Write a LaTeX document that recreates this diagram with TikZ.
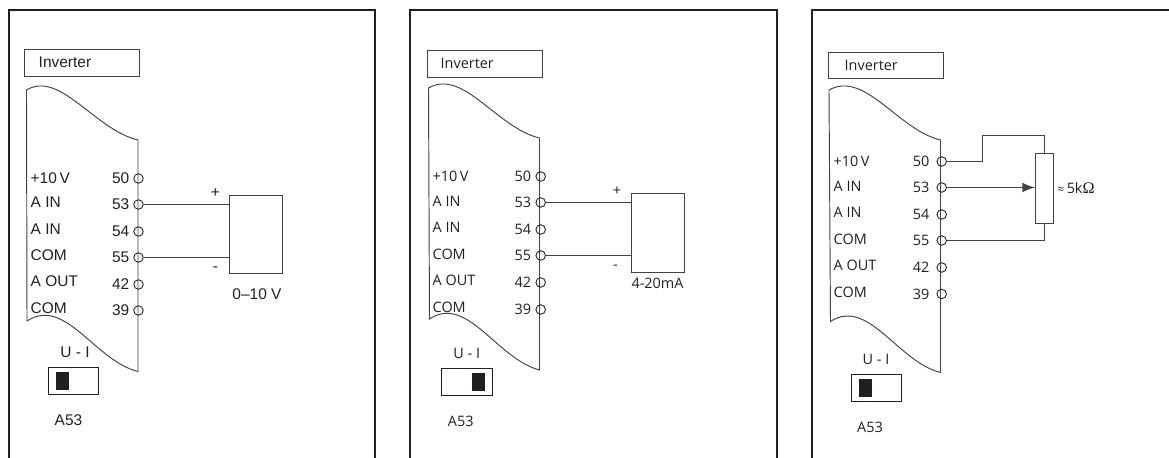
\documentclass[tikz,border=0pt]{standalone}
\usepackage{fontspec}
\setmainfont{Liberation Sans}
\newfontfamily\opensans{Open Sans}
\newfontfamily\serifomega{Liberation Serif}
\usetikzlibrary{arrows}
\definecolor{ink}{HTML}{231F20}
\tikzset{
  frameline/.style={line width=0.55pt,draw=ink},
  wire/.style={line width=0.27pt,draw=ink!85},
  term/.style={circle,draw=ink,line width=0.25pt,inner sep=0pt,minimum size=0.095cm},
  lbl/.style={inner sep=0pt,text=ink,font=\fontsize{4.4}{5}\selectfont},
  lblb/.style={inner sep=0pt,text=ink,font=\opensans\fontsize{4.1}{5}\selectfont},
  loadbox/.style={draw=ink!85,line width=0.27pt,inner sep=0pt},
  switchbox/.style={draw=ink,line width=0.27pt,inner sep=0pt,minimum width=0.505cm,minimum height=0.27cm},
  slider/.style={fill=ink,inner sep=0pt,minimum width=0.13cm,minimum height=0.175cm}
}
\begin{document}
\begin{tikzpicture}[x=0.01cm,y=-0.01cm,>=triangle 45]
      \useasboundingbox (0,0) rectangle (1169,458);
      % 0-10 V
      \draw [frameline] (9,458) -- (9,10) -- (375,10) -- (375,458);
      \draw [wire] (24.5,49.5) rectangle (139.5,76);
      \node [lbl, anchor=west] (ainv) at (38,62) {Inverter};
      \draw [wire] (26.5,90) .. controls (60,70) and (95,130) .. (138,140) -- (138,371.5)
        .. controls (95,361) and (65,296) .. (27,321) -- cycle;
      \foreach \num/\ypos/\name/\namepos in {50/178.5/{+10\,V}/178, 53/204.5/A IN/202.5, 54/231.5/A IN/229, 55/257.5/COM/255, 42/284.5/A OUT/281, 39/310.5/COM/308}
      {
        \node [term] (a\num) at (138.5,\ypos) {};
        \node [lbl, anchor=east] (an\num) at (130,\ypos) {\num};
        \node [lbl, anchor=west] (al\num) at (30,\namepos) {\name};
      }
      \node [loadbox, minimum width=0.535cm, minimum height=0.78cm] (abox) at (255.75,234.5) {};
      \draw [wire] (a53) -- (a53 -| abox.west);
      \draw [wire] (a55) -- (a55 -| abox.west);
      \node [lbl] (aplus) at (215.5,193) {+};
      \node [lbl] (aminus) at (215.5,269) {-};
      \node [lbl] (avolt) at (257,294) {0--10 V};
      \node [lbl] (aui) at (75,352) {U - I};
      \node [switchbox] (asw) at (73.25,381) {};
      \node [slider] (aslide) at (62.5,381) {};
      \node [lbl] (aname) at (68.5,420.5) {A53};
      % 4-20 mA
      \draw [frameline] (410,458) -- (410,10) -- (777,10) -- (777,458);
      \draw [wire] (427.5,50.5) rectangle (542.5,77);
      \node [lblb, anchor=west] (binv) at (440,63) {Inverter};
      \draw [wire] (428.5,88) .. controls (463,68) and (497,128) .. (539.5,138) -- (539.5,370)
        .. controls (497,359) and (467,294) .. (429.5,319) -- cycle;
      \foreach \num/\ypos/\name/\namepos in {50/176.5/{+10\,V}/176, 53/202.5/A IN/201, 54/229.5/A IN/227, 55/255.5/COM/254, 42/282.5/A OUT/280.5, 39/309.5/COM/307}
      {
        \node [term] (b\num) at (540.7,\ypos) {};
        \node [lblb, anchor=east] (bn\num) at (531.7,\ypos) {\num};
        \node [lblb, anchor=west] (bl\num) at (432,\namepos) {\name};
      }
      \node [loadbox, minimum width=0.535cm, minimum height=0.785cm] (bbox) at (657.75,232.75) {};
      \draw [wire] (b53) -- (b53 -| bbox.west);
      \draw [wire] (b55) -- (b55 -| bbox.west);
      \node [lblb] (bplus) at (617,191.5) {+};
      \node [lblb] (bminus) at (615.5,267.5) {-};
      \node [lblb] (bamp) at (657.5,283.5) {4-20mA};
      \node [lblb] (bui) at (466.7,353.5) {U - I};
      \node [switchbox] (bsw) at (466.75,381.75) {};
      \node [slider] (bslide) at (478.5,382) {};
      \node [lblb] (bname) at (460.7,421.7) {A53};
      % potentiometer
      \draw [frameline] (812,458) -- (812,10) -- (1169,10);
      \draw [wire] (828,52.5) rectangle (943,78.5);
      \node [lblb, anchor=west] (cinv) at (844,65.5) {Inverter};
      \draw [wire] (829,90) .. controls (865,70) and (898,130) .. (940.5,140) -- (940.5,372.5)
        .. controls (898,362) and (868,297) .. (830.5,321.5) -- cycle;
      \foreach \num/\ypos/\name/\namepos in {50/161.5/{+10\,V}/161, 53/187.5/A IN/186, 54/214.5/A IN/212, 55/240.5/COM/239.5, 42/267.5/A OUT/265.5, 39/294/COM/292.5}
      {
        \node [term] (c\num) at (941.7,\ypos) {};
        \node [lblb, anchor=east] (cn\num) at (930,\ypos) {\num};
        \node [lblb, anchor=west] (cl\num) at (833,\namepos) {\name};
      }
      \node [loadbox, minimum width=0.18cm, minimum height=0.70cm] (cpot) at (1044.5,188.5) {};
      \draw [wire] (c50) -- ++(41,0) -- ++(0,-26) -| (cpot.north);
      \draw [wire, ->, >=latex] (c53) -- (c53 -| cpot.west);
      \draw [wire] (c55) -| (cpot.south);
      \node [lblb, anchor=west] (cohm) at (1057,188) {{\fontsize{3.3}{3}\selectfont ≈}\,5k{\fontsize{4.6}{5}\serifomega Ω}};
      \node [lblb] (cui) at (876,359.5) {U - I};
      \node [switchbox] (csw) at (876.25,388) {};
      \node [slider] (cslide) at (865.75,388) {};
      \node [lblb] (cname) at (870,427.7) {A53};
    \end{tikzpicture}
\end{document}
